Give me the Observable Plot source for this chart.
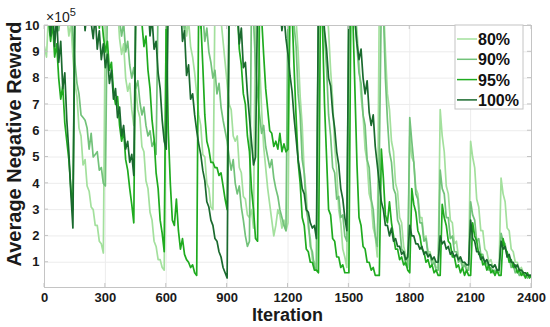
<!DOCTYPE html>
<html><head><meta charset="utf-8">
<script src="https://cdn.jsdelivr.net/npm/d3@7"></script>
<script src="https://cdn.jsdelivr.net/npm/@observablehq/plot@0.6"></script>
<style>body{margin:0;background:#fff}#chart{width:550px;height:327px}</style>
</head><body><div id="chart"></div>
<script>
const seriesNames = ["80%", "90%", "95%", "100%"];
const seriesColors = ["#a3e09d", "#72c27a", "#1fab1f", "#1a6a2e"];
const iterStep = 10;
const xTicks = [0, 300, 600, 900, 1200, 1500, 1800, 2100, 2400];
const yTicks = [1, 2, 3, 4, 5, 6, 7, 8, 9, 10];

// values in units of 1e5, one value every 10 iterations (0..2400)
const s80 = [
  9.2, 8.8, 10.5, 11, 10.2, 11, 10.6, 11, 10.3, 10.8, 11, 10.4, 9.6, 10.1, 8.8,
  7.8, 7.3, 6.1, 5.8, 4.7, 4.9, 3.9, 3.7, 3.1, 3.0, 2.4, 2.4, 1.8, 1.7, 1.35,
  11, 10.4, 11, 10.6, 11, 10.1, 10.7, 9.5, 8.9, 9.3, 8.0, 7.5, 7.8, 6.8, 6.2,
  7.6, 6.8, 6.5, 5.4, 5.2, 4.1, 3.8, 2.9, 2.6, 1.8, 1.6, 1.1, 1.1, 0.8, 0.7,
  11, 10.5, 11, 10.2, 10.8, 11, 10.4, 11, 10.0, 10.6, 9.6, 10.2, 9.2, 8.8, 8.2,
  7.4, 6.6, 6.2, 5.1, 5.0, 4.0, 3.8, 3.1, 3.0, 11, 10.5, 11, 10.2, 9.4, 8.6,
  7.8, 7.0, 6.8, 5.8, 5.6, 5.8, 4.6, 4.4, 3.5, 3.4, 2.8, 2.7, 3.0, 2.3, 11,
  10.4, 8.6, 6.8, 5.4, 4.6, 3.8, 3.2, 2.6, 2.0, 2.4, 3.0, 2.8, 2.3, 2.6, 2.2,
  2.5, 11, 10.6, 11, 10.2, 9.0, 7.3, 6.2, 4.4, 3.6, 2.3, 1.9, 1.1, 1.0, 0.7,
  11, 10.6, 11, 10.3, 11, 9.8, 8.3, 7.2, 5.4, 4.5, 3.0, 2.5, 1.5, 1.2, 0.8,
  11, 10.4, 11, 10.7, 9.8, 8.6, 7.3, 6.6, 5.3, 4.8, 3.6, 3.3, 2.3, 2.0, 1.2,
  11, 10.6, 11, 9.0, 7.4, 6.8, 5.6, 5.2, 4.0, 3.7, 2.7, 2.5, 1.6, 1.3, 0.9,
  5.8, 5.0, 4.8, 3.8, 3.6, 2.7, 2.7, 1.9, 2.0, 1.4, 1.4, 1.0, 1.1, 0.8, 0.8,
  6.8, 5.8, 5.2, 3.9, 3.6, 2.6, 2.5, 1.7, 1.8, 1.2, 1.2, 0.9, 1.0, 0.8, 0.7,
  5.6, 5.0, 4.6, 3.4, 3.1, 2.2, 2.2, 1.5, 1.4, 1.0, 1.1, 0.8, 0.9, 0.7, 0.7,
  4.2, 3.6, 3.3, 2.3, 2.2, 1.5, 1.4, 1.0, 1.0, 0.7, 0.8, 0.6, 0.6, 0.5, 0.5,
  0.5
];
const s90 = [
  11, 10.4, 11, 10.6, 11, 10.2, 10.8, 9.8, 10.4, 11, 10.5, 11, 10.1, 10.7, 9.6,
  8.6, 7.8, 7.4, 6.6, 6.5, 6.4, 6.1, 5.3, 5.9, 5.0, 5.1, 5.2, 4.5, 4.6, 4.0,
  3.9, 11, 10.5, 11, 10.3, 10.8, 11, 10.2, 9.6, 10.1, 9.0, 9.4, 8.5, 8.0, 8.4,
  7.6, 7.9, 7.1, 6.6, 6.9, 6.2, 5.8, 6.0, 5.4, 5.6, 5.1, 11, 10.4, 11, 10.6,
  11, 10.3, 11, 10.7, 11, 10.1, 10.8, 11, 10.4, 9.8, 10.5, 11, 10.2, 10.7, 11,
  10.3, 10.8, 9.9, 10.5, 9.4, 9.9, 9.0, 8.6, 8.0, 8.3, 7.4, 7.8, 6.9, 6.4, 6.0,
  5.6, 5.0, 4.5, 4.9, 4.0, 3.6, 3.9, 3.1, 2.6, 2.0, 1.6, 1.8, 11, 10.2, 8.5,
  7.4, 6.6, 5.9, 6.2, 5.4, 5.0, 4.6, 4.9, 4.2, 3.8, 3.5, 3.0, 2.7, 2.4, 2.2,
  11, 10.4, 11, 10.0, 9.2, 7.4, 6.6, 4.9, 4.4, 3.0, 2.6, 1.6, 1.4, 0.8, 0.7,
  11, 10.5, 11, 9.6, 8.4, 6.6, 5.8, 4.6, 4.4, 3.4, 3.5, 2.7, 2.8, 2.0, 1.8,
  11, 10.6, 11, 10.2, 9.2, 8.2, 7.8, 6.6, 6.2, 4.9, 4.6, 3.4, 3.0, 2.0, 1.6,
  5.0, 11, 10.6, 8.0, 6.4, 5.2, 4.8, 3.8, 3.6, 2.6, 2.4, 1.5, 1.4, 0.9, 0.8,
  6.5, 5.6, 4.8, 3.6, 3.4, 2.5, 2.5, 1.8, 1.9, 1.3, 1.3, 0.9, 1.0, 0.7, 0.7,
  4.5, 3.8, 3.6, 2.7, 2.7, 1.9, 2.0, 1.4, 1.4, 1.0, 1.1, 0.8, 0.9, 0.7, 0.7,
  3.3, 2.8, 2.6, 1.8, 1.9, 1.3, 1.3, 0.9, 1.0, 0.7, 0.8, 0.6, 0.7, 0.6, 0.6,
  2.1, 1.8, 1.7, 1.2, 1.2, 0.8, 0.9, 0.6, 0.7, 0.5, 0.6, 0.5, 0.5, 0.4, 0.5,
  0.5
];
const s95 = [
  10.6, 11, 10.2, 9.4, 10.1, 8.8, 9.3, 8.0, 7.2, 7.7, 6.3, 5.6, 4.9, 3.8, 3.0,
  11, 10.3, 11, 10.6, 11, 10.4, 11, 10.2, 10.8, 11, 10.3, 10.9, 9.9, 10.5, 9.6,
  9.0, 9.4, 8.3, 8.6, 7.5, 7.0, 7.3, 6.2, 5.6, 6.0, 4.9, 4.5, 3.8, 3.2, 2.5,
  11, 10.4, 11, 10.1, 9.2, 9.6, 8.3, 7.6, 6.4, 5.7, 4.4, 3.8, 2.6, 2.1, 1.4,
  10.5, 6.0, 4.0, 2.6, 2.4, 3.4, 2.2, 1.5, 1.9, 1.3, 1.1, 1.0, 0.8, 0.9, 0.6,
  0.5, 11, 10.2, 8.5, 6.6, 5.6, 5.3, 4.8, 4.8, 4.6, 4.6, 4.3, 4.4, 3.9, 3.4,
  3.0, 11, 10.4, 11, 10.0, 10.6, 9.1, 8.5, 7.4, 7.0, 5.8, 5.2, 3.8, 3.0, 1.9,
  1.8, 11, 10.3, 8.9, 7.6, 6.8, 6.0, 5.9, 5.4, 5.6, 5.3, 5.9, 5.2, 5.5, 5.2,
  5.3, 11, 10.5, 8.4, 6.5, 4.8, 4.0, 2.7, 2.4, 1.5, 1.4, 1.0, 1.0, 0.7, 0.7,
  0.6, 11, 10.0, 7.0, 5.0, 3.0, 2.8, 1.9, 1.8, 1.2, 1.2, 0.8, 0.9, 0.6, 0.6,
  0.6, 11, 10.2, 7.5, 4.7, 2.7, 2.4, 1.6, 1.5, 1.0, 1.0, 0.7, 0.8, 0.5, 0.5,
  0.5, 5.3, 4.2, 2.8, 2.5, 3.3, 2.5, 2.0, 1.5, 1.5, 1.1, 1.2, 0.9, 1.0, 0.7,
  0.6, 3.8, 3.2, 2.9, 2.2, 2.0, 1.5, 1.4, 1.0, 1.1, 0.8, 0.9, 0.6, 0.7, 0.5,
  0.5, 3.2, 2.7, 2.4, 1.8, 1.7, 1.2, 1.2, 0.8, 0.9, 0.6, 0.8, 0.5, 0.7, 0.5,
  0.5, 2.5, 2.0, 1.8, 1.3, 1.3, 0.9, 1.0, 0.7, 0.9, 0.6, 0.7, 0.5, 0.7, 0.5,
  0.5, 1.9, 1.5, 1.4, 1.0, 1.1, 0.8, 0.9, 0.6, 0.7, 0.5, 0.6, 0.4, 0.6, 0.4,
  0.5
];
const s100 = [
  11, 10.5, 11, 9.6, 10.8, 9.2, 10.4, 8.6, 9.4, 7.6, 8.2, 6.4, 5.2, 3.6, 2.3,
  11, 10.6, 11, 10.2, 11, 9.8, 10.6, 11, 10.1, 9.5, 10.4, 9.1, 9.8, 8.7, 9.3,
  8.4, 8.9, 7.8, 8.3, 7.2, 7.6, 6.5, 6.9, 5.8, 6.2, 5.3, 5.6, 4.8, 5.1, 4.3,
  11, 10.4, 11, 10.7, 11, 10.2, 10.9, 9.6, 10.3, 9.1, 9.4, 8.2, 7.6, 6.4, 5.6,
  5.3, 11, 10.6, 11, 10.3, 11, 10.5, 11, 9.4, 9.8, 8.1, 8.5, 7.2, 7.4, 6.6,
  6.0, 5.5, 5.1, 4.5, 4.1, 3.3, 3.1, 2.6, 2.4, 1.9, 1.8, 1.4, 1.2, 0.8, 0.6,
  0.4, 11, 10.5, 11, 10.2, 10.8, 9.3, 9.9, 8.4, 8.6, 7.4, 6.5, 5.6, 4.7, 5.0,
  11, 10.6, 11, 10.3, 11, 10.8, 11, 10.4, 11, 10.6, 10.1, 10.8, 9.8, 10.4, 9.5,
  8.9, 8.1, 7.5, 6.5, 5.7, 4.9, 4.4, 3.8, 3.6, 3.0, 2.9, 2.5, 2.3, 2.4, 1.9,
  11, 10.6, 11, 9.8, 9.1, 8.0, 7.7, 6.7, 6.1, 5.2, 4.7, 3.8, 3.4, 2.7, 2.2,
  11, 10.5, 11, 10.2, 9.3, 8.7, 9.1, 8.0, 7.4, 7.9, 6.7, 6.2, 6.6, 5.4, 4.7,
  4.0, 3.3, 3.0, 2.4, 2.4, 2.0, 2.3, 1.8, 1.9, 1.6, 1.6, 1.3, 1.4, 1.1, 1.2,
  2.4, 2.0, 2.0, 1.7, 1.7, 1.5, 1.6, 1.3, 1.4, 1.2, 1.3, 1.1, 1.2, 1.0, 1.0,
  2.0, 1.7, 1.8, 1.5, 1.6, 1.3, 1.4, 1.2, 1.3, 1.1, 1.2, 1.0, 1.0, 0.9, 0.9,
  2.6, 1.9, 1.8, 1.4, 1.4, 1.1, 1.2, 1.0, 1.1, 0.9, 0.9, 0.8, 0.9, 0.7, 0.7,
  1.8, 1.5, 1.6, 1.2, 1.3, 1.0, 1.0, 0.8, 0.9, 0.7, 0.7, 0.6, 0.6, 0.5, 0.5,
  0.5
];

const allSeries = [s80, s90, s95, s100];
const data = [];
allSeries.forEach((arr, k) => arr.forEach((v, i) => data.push({series: seriesNames[k], iter: i * iterStep, value: v})));

const font = "'Liberation Sans', Arial, Helvetica, sans-serif";
const plot = Plot.plot({
  width: 550, height: 327,
  marginLeft: 44, marginRight: 19, marginTop: 25, marginBottom: 40,
  style: {fontFamily: font, fontSize: "13px", fontWeight: "bold", color: "#1a1a1a", background: "#fff"},
  x: {domain: [0, 2400], label: null},
  y: {domain: [0.04, 10], label: null},
  color: {domain: seriesNames, range: seriesColors},
  marks: [
    Plot.gridX(xTicks, {stroke: "#ececec", strokeOpacity: 1}),
    Plot.gridY(yTicks, {stroke: "#ececec", strokeOpacity: 1}),
    Plot.line(data, {x: "iter", y: "value", z: "series", stroke: "series", strokeWidth: 1.7, clip: true}),
    Plot.frame({stroke: "#c4c4c4"}),
    Plot.axisX(xTicks, {tickSize: 0, tickPadding: 5, tickFormat: d => String(d)}),
    Plot.axisY(yTicks, {tickSize: 0, tickPadding: 5, tickFormat: d => String(d)})
  ]
});
document.getElementById("chart").appendChild(plot);

const svg = d3.select(plot);
const sx = plot.scale("x"), sy = plot.scale("y");
const x0 = sx.apply(0), x1 = sx.apply(2400), yb = sy.apply(0.04), yt = sy.apply(10);
const tickG = svg.append("g").attr("stroke", "#c4c4c4");
xTicks.forEach(t => {
  const px = sx.apply(t);
  tickG.append("line").attr("x1", px).attr("x2", px).attr("y1", yb).attr("y2", yb - 4);
  tickG.append("line").attr("x1", px).attr("x2", px).attr("y1", yt).attr("y2", yt + 4);
});
yTicks.forEach(t => {
  const py = sy.apply(t);
  tickG.append("line").attr("x1", x0).attr("x2", x0 + 4).attr("y1", py).attr("y2", py);
  tickG.append("line").attr("x1", x1).attr("x2", x1 - 4).attr("y1", py).attr("y2", py);
});

// exponent label
const ex = svg.append("text").attr("x", x0 + 2).attr("y", yt - 3).attr("text-anchor", "start")
  .style("font-family", font).style("font-size", "14px").style("font-weight", "normal").attr("fill", "#1a1a1a");
ex.append("tspan").text("×10");
ex.append("tspan").style("font-size", "11px").attr("dy", -6).text("5");

// axis titles
svg.append("text").attr("x", (x0 + x1) / 2).attr("y", 321).attr("text-anchor", "middle")
  .attr("font-family", font).attr("font-size", 18).attr("font-weight", "bold").attr("fill", "#1a1a1a")
  .text("Iteration");
svg.append("text").attr("transform", `translate(21,144) rotate(-90)`).attr("text-anchor", "middle")
  .attr("font-family", font).attr("font-size", 20).attr("font-weight", "bold").attr("fill", "#1a1a1a")
  .text("Average Negative Reward");

// legend
const lg = svg.append("g");
lg.append("rect").attr("x", 455).attr("y", yt).attr("width", 68).attr("height", 84)
  .attr("fill", "#fff").attr("stroke", "#c4c4c4");
seriesNames.forEach((name, i) => {
  const ly = yt + 14 + i * 20.3;
  lg.append("line").attr("x1", 457).attr("x2", 477).attr("y1", ly).attr("y2", ly)
    .attr("stroke", seriesColors[i]).attr("stroke-width", 1.5);
  lg.append("text").attr("x", 478).attr("y", ly + 6).attr("text-anchor", "start").attr("font-family", font)
    .attr("font-size", 16).attr("font-weight", "bold").attr("fill", "#111").text(name);
});
</script></body></html>
